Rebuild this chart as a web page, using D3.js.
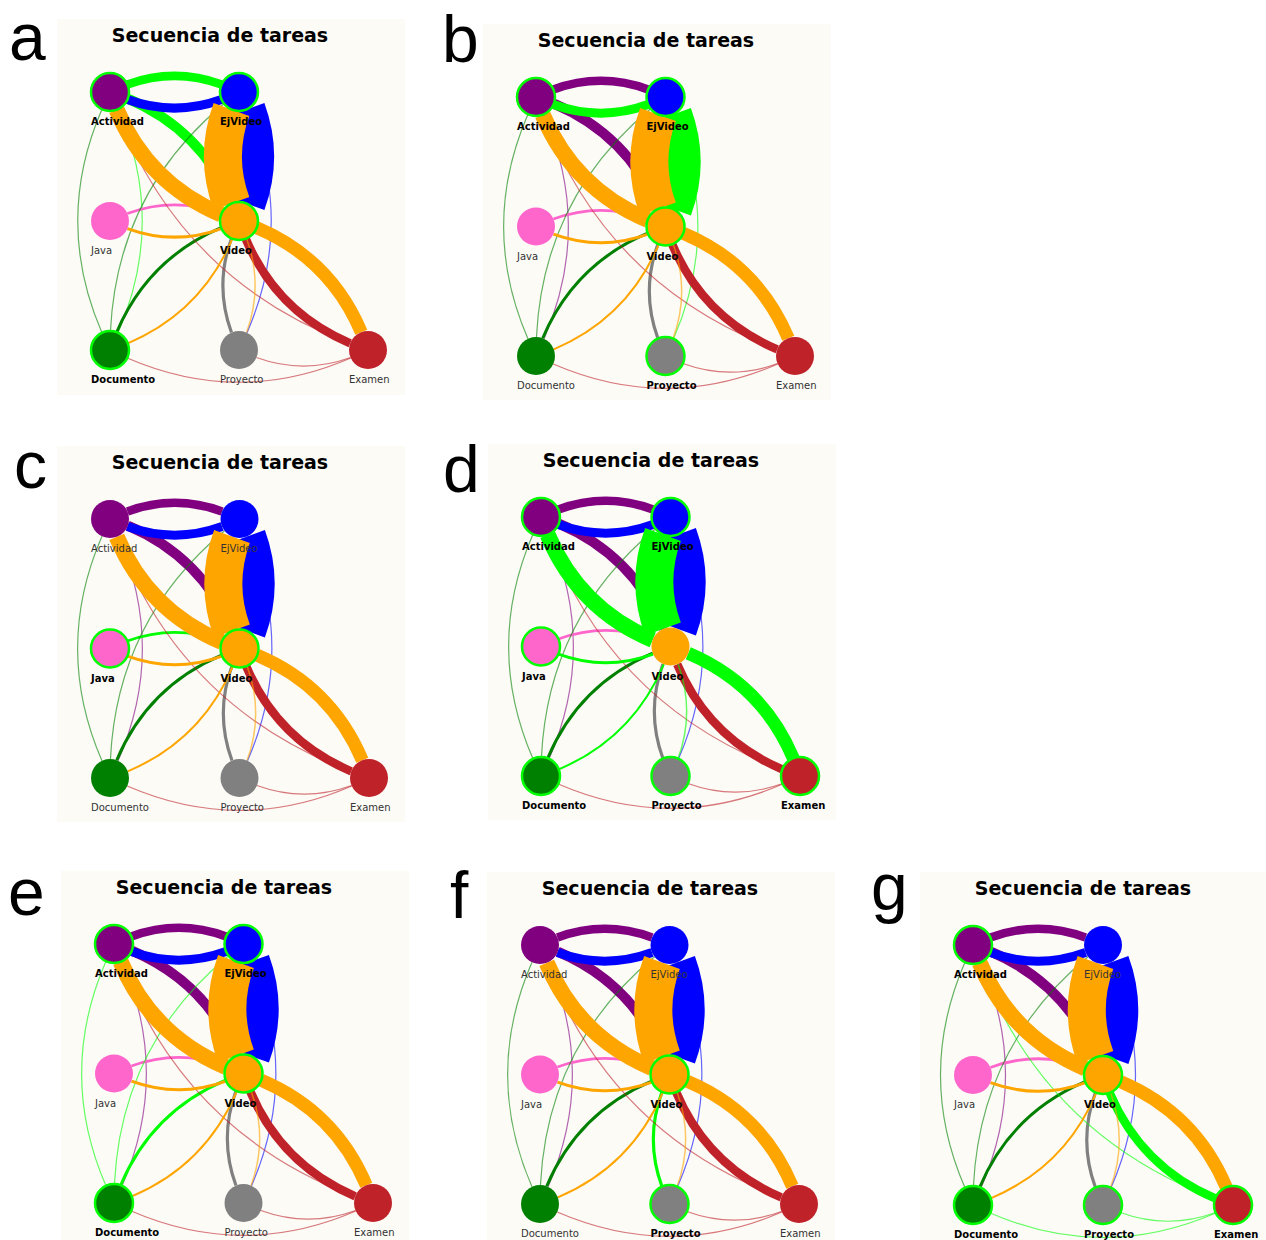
<!DOCTYPE html>
<html>
<head>
<meta charset="utf-8">
<script src="https://cdn.jsdelivr.net/npm/d3@7/dist/d3.min.js"></script>
<style>
body { margin: 0; background: #ffffff; }
</style>
</head>
<body>
<svg id="fig" width="1266" height="1240"></svg>
<script>
// nodes of the task-sequence graph
var nodeNames  = ["Actividad", "EjVideo", "Java", "Video", "Documento", "Proyecto", "Examen"];
var nodeColors = ["#800080", "#0000ff", "#ff66cc", "#ffa500", "#008000", "#808080", "#c0222a"];
var nodeCol    = [0, 1, 0, 1, 0, 1, 2];
var nodeRow    = [0, 0, 1, 1, 2, 2, 2];

// transitions (source -> target, count)
var edgeSource = ["Actividad", "Actividad", "Actividad",
                  "EjVideo", "EjVideo", "EjVideo",
                  "Java",
                  "Documento", "Documento", "Documento",
                  "Proyecto",
                  "Examen", "Examen", "Examen", "Examen",
                  "Video", "Video", "Video", "Video", "Video", "Video"];
var edgeTarget = ["EjVideo", "Video", "Documento",
                  "Actividad", "Video", "Proyecto",
                  "Video",
                  "Video", "Actividad", "EjVideo",
                  "Video",
                  "Video", "Actividad", "Documento", "Proyecto",
                  "Actividad", "EjVideo", "Java", "Documento", "Proyecto", "Examen"];
var edgeCount  = [85, 100, 12,
                  90, 380, 12,
                  28,
                  30, 12, 12,
                  32,
                  85, 12, 12, 12,
                  160, 380, 30, 20, 15, 130];

// panels: letter and the task whose outgoing transitions are highlighted
var panelLetters = ["a", "b", "c", "d", "e", "f", "g"];
var panelFocus   = ["Actividad", "EjVideo", "Java", "Video", "Documento", "Proyecto", "Examen"];
var panelTitle   = "Secuencia de tareas";

// layout of the panels on the page
var panelLayout = [
	{ax: 110, ay: 92,  s: 129,   lx: 9,   ly: 60,  ring: true},
	{ax: 536, ay: 97,  s: 129.5, lx: 442, ly: 62,  ring: true},
	{ax: 110, ay: 519, s: 129.5, lx: 14,  ly: 488, ring: true},
	{ax: 541, ay: 517, s: 129.5, lx: 443, ly: 492, ring: false},
	{ax: 114, ay: 944, s: 129.5, lx: 8,   ly: 915, ring: true},
	{ax: 540, ay: 945, s: 129.5, lx: 450, ly: 918, ring: true},
	{ax: 973, ay: 945, s: 130,   lx: 871, ly: 910, ring: true}
];

var hiColor = "#00ff00";
var curv = 0.25;
var nodeR = 19;
var drawOrder = ["Actividad", "EjVideo", "Java", "Documento", "Proyecto", "Examen", "Video"];

var svg = d3.select("#fig");
svg.append("rect").attr("width", 1266).attr("height", 1240).attr("fill", "#ffffff");

var wscale = d3.scaleLinear().domain([0, 380]).range([0, 38]);

// curved edge, cut at the node borders
function edgePath(sx, sy, tx, ty, rr)
{
	var dx = tx - sx, dy = ty - sy;
	var cx = (sx + tx) / 2 + curv * dy;
	var cy = (sy + ty) / 2 - curv * dx;
	function bez(t)
	{
		var u = 1 - t;
		return [u*u*sx + 2*u*t*cx + t*t*tx, u*u*sy + 2*u*t*cy + t*t*ty];
	}
	function find(px, py, a, b)
	{
		// a is near the node, b away from it
		for(var i=0;i<40;i++)
		{
			var m = (a + b) / 2;
			var p = bez(m);
			var d = Math.hypot(p[0]-px, p[1]-py);
			if(d < rr) a = m; else b = m;
		}
		return (a + b) / 2;
	}
	var t0 = find(sx, sy, 0, 0.5);
	var t1 = find(tx, ty, 1, 0.5);
	var p0 = bez(t0), p2 = bez(t1);
	var k0 = (1-t0)*(1-t1), k1 = (1-t0)*t1 + t0*(1-t1), k2 = t0*t1;
	var qx = k0*sx + k1*cx + k2*tx;
	var qy = k0*sy + k1*cy + k2*ty;
	var path = d3.path();
	path.moveTo(p0[0], p0[1]);
	path.quadraticCurveTo(qx, qy, p2[0], p2[1]);
	return path.toString();
}

var edges = edgeSource.map(function(s, i)
{
	return {source: s, target: edgeTarget[i], count: edgeCount[i]};
});
edges.sort(function(a, b)
{
	return drawOrder.indexOf(a.source) - drawOrder.indexOf(b.source);
});

panelLayout.forEach(function(p, k)
{
	var g = svg.append("g");
	var x = d3.scaleLinear().domain([0, 2]).range([p.ax, p.ax + 2 * p.s]);
	var y = d3.scaleLinear().domain([0, 2]).range([p.ay, p.ay + 2 * p.s]);
	var focus = panelFocus[k];

	var hiNodes = {};
	hiNodes[focus] = true;
	edges.forEach(function(e)
	{
		if(e.source == focus) hiNodes[e.target] = true;
	});

	g.append("rect")
		.attr("x", p.ax - 53).attr("y", p.ay - 73)
		.attr("width", 348).attr("height", 376)
		.attr("fill", "#fcfbf6");

	svg.append("text").text(panelLetters[k])
		.attr("x", p.lx).attr("y", p.ly)
		.attr("font-family", "Liberation Sans, Arial, sans-serif")
		.attr("font-size", 66)
		.attr("fill", "#000");

	g.append("text").text(panelTitle)
		.attr("x", p.ax + 110).attr("y", p.ay - 50)
		.attr("text-anchor", "middle")
		.attr("font-family", "DejaVu Sans, sans-serif")
		.attr("font-weight", "bold")
		.attr("font-size", 19)
		.attr("fill", "#000");

	function nx(n) { return x(nodeCol[nodeNames.indexOf(n)]); }
	function ny(n) { return y(nodeRow[nodeNames.indexOf(n)]); }

	g.selectAll("path.edge").data(edges).enter().append("path")
		.attr("class", "edge")
		.attr("d", function(e)
		{
			return edgePath(nx(e.source), ny(e.source), nx(e.target), ny(e.target), nodeR);
		})
		.attr("fill", "none")
		.attr("stroke", function(e)
		{
			if(e.source == focus) return hiColor;
			return nodeColors[nodeNames.indexOf(e.source)];
		})
		.attr("stroke-width", function(e) { return wscale(e.count); })
		.attr("stroke-opacity", function(e) { return wscale(e.count) < 1.6 ? 0.6 : 1; })
		.attr("stroke-linecap", "butt");

	g.selectAll("circle").data(nodeNames).enter().append("circle")
		.attr("cx", function(d) { return nx(d); })
		.attr("cy", function(d) { return ny(d); })
		.attr("r", nodeR)
		.attr("fill", function(d, i) { return nodeColors[i]; })
		.attr("stroke", function(d)
		{
			if(!hiNodes[d]) return "none";
			if(d == focus && !p.ring) return "none";
			return hiColor;
		})
		.attr("stroke-width", 2.5);

	g.selectAll("text.lab").data(nodeNames).enter().append("text")
		.attr("class", "lab")
		.text(function(d) { return d; })
		.attr("x", function(d) { return nx(d) - 19; })
		.attr("y", function(d) { return ny(d) + 33; })
		.attr("font-family", "DejaVu Sans, sans-serif")
		.attr("font-size", 10)
		.attr("font-weight", function(d) { return hiNodes[d] ? "bold" : "normal"; })
		.attr("fill", function(d) { return hiNodes[d] ? "#000" : "#333"; });
});
</script>
</body>
</html>
